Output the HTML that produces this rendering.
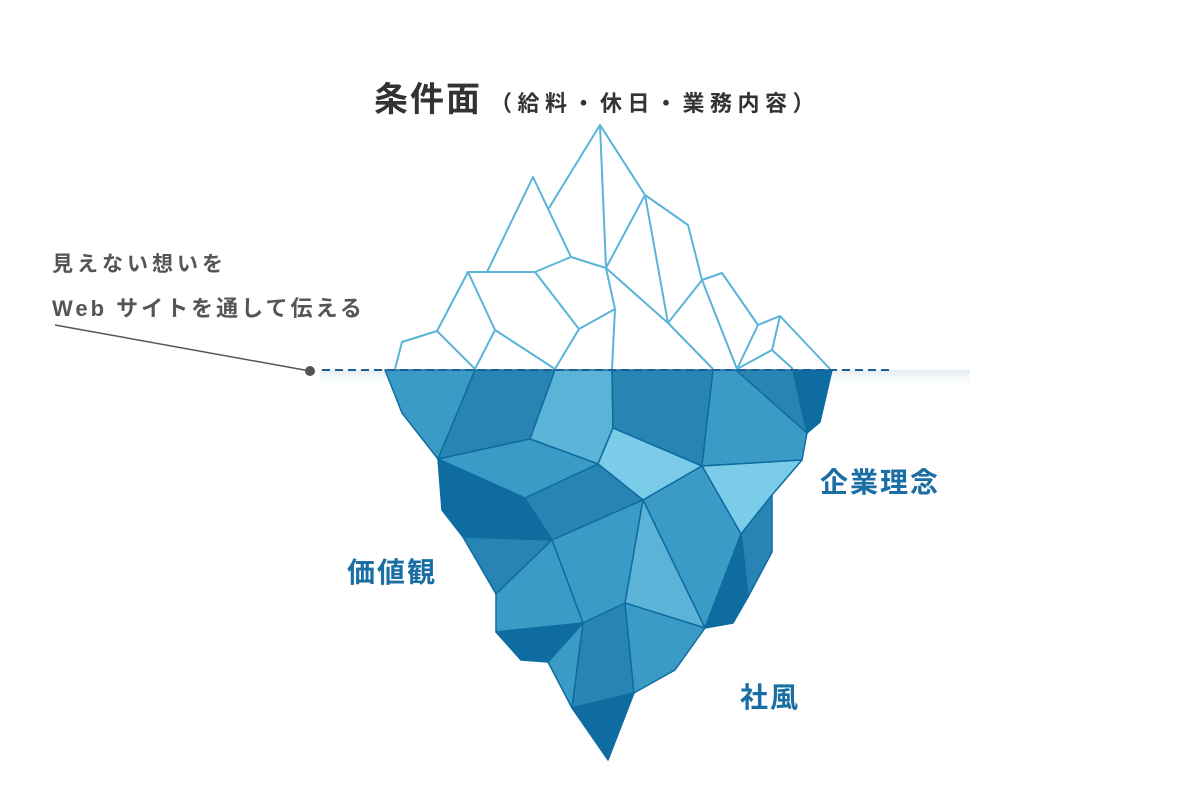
<!DOCTYPE html>
<html><head><meta charset="utf-8"><style>
body{margin:0;background:#fff;width:1200px;height:809px;overflow:hidden;position:relative;font-family:"Liberation Sans","Noto Sans CJK JP",sans-serif}
.t{position:absolute;white-space:nowrap}
</style></head><body>
<svg width="1200" height="809" style="position:absolute;left:0;top:0">
<defs><linearGradient id="gl" x1="0" y1="0" x2="0" y2="1"><stop offset="0" stop-color="#dfe9f2" stop-opacity=".9"/><stop offset="1" stop-color="#fff" stop-opacity="0"/></linearGradient></defs>
<rect x="320" y="370" width="650" height="18" fill="url(#gl)"/>
<g fill="none" stroke="#5ab4d8" stroke-width="2" stroke-linejoin="round">
<polyline points="395,369 402,342 437,331 468,272 535,272 571,257"/>
<polyline points="487,272 533,177 571,257 606,268"/>
<polyline points="549,208 600,125 606,268"/>
<polyline points="600,125 645,195 688,225 702,280 722,273 758,325 780,316 830,369"/>
<line x1="645" y1="195" x2="606" y2="268"/><line x1="645" y1="195" x2="668" y2="323"/>
<line x1="606" y1="268" x2="668" y2="323"/><line x1="606" y1="268" x2="615" y2="309"/>
<line x1="702" y1="280" x2="668" y2="323"/><line x1="702" y1="280" x2="737" y2="369"/>
<line x1="668" y1="323" x2="713" y2="369"/><line x1="615" y1="309" x2="612" y2="369"/>
<polyline points="615,309 579,329 555,369"/><line x1="535" y1="272" x2="579" y2="329"/>
<polyline points="468,272 495,330 475,369"/><line x1="495" y1="330" x2="555" y2="369"/>
<line x1="437" y1="331" x2="475" y2="369"/>
<line x1="758" y1="325" x2="737" y2="369"/><polyline points="780,316 772,350 737,369"/><line x1="772" y1="350" x2="793" y2="369"/>
</g>
<g stroke="#0f6ca0" stroke-width="1.5" stroke-linejoin="round">
<polygon fill="#3a9cc6" points="385,370 475,370 438,459 402,413"/>
<polygon fill="#2884b3" points="475,370 555,370 530,439 438,459"/>
<polygon fill="#5cb3d8" points="555,370 612,370 613,428 598,464 530,439"/>
<polygon fill="#2884b3" points="612,370 713,370 702,466 613,428"/>
<polygon fill="#3a9cc6" points="713,370 736,370 807,433 802,460 702,466"/>
<polygon fill="#2884b3" points="736,370 793,370 807,433"/>
<polygon fill="#0f6ca0" points="793,370 832,370 820,422 807,433"/>
<polygon fill="#3a9cc6" points="438,459 530,439 598,464 525,498"/>
<polygon fill="#7acce8" points="613,428 702,466 643,500 598,464"/>
<polygon fill="#0f6ca0" points="438,459 525,498 552,540 463,537 442,510"/>
<polygon fill="#2884b3" points="525,498 598,464 643,500 552,540"/>
<polygon fill="#7acce8" points="702,466 802,460 772,495 741,534"/>
<polygon fill="#3a9cc6" points="643,500 702,466 741,534 705,628"/>
<polygon fill="#2884b3" points="741,534 772,495 772,552 748,597"/>
<polygon fill="#0f6ca0" points="741,534 748,597 733,623 705,628"/>
<polygon fill="#2884b3" points="463,537 552,540 496,594"/>
<polygon fill="#3a9cc6" points="552,540 643,500 625,603 583,623"/>
<polygon fill="#5cb3d8" points="643,500 705,628 625,603"/>
<polygon fill="#3a9cc6" points="496,594 552,540 583,623 496,632"/>
<polygon fill="#0f6ca0" points="496,632 583,623 548,662 521,660"/>
<polygon fill="#3a9cc6" points="583,623 572,708 548,662"/>
<polygon fill="#2884b3" points="583,623 625,603 634,693 572,708"/>
<polygon fill="#3a9cc6" points="625,603 705,628 675,670 634,693"/>
<polygon fill="#0f6ca0" points="572,708 634,693 608,760"/>
</g>
<line x1="322" y1="370" x2="890" y2="370" stroke="#1d5f92" stroke-width="2" stroke-dasharray="8,5"/>
<line x1="55" y1="325" x2="310" y2="371" stroke="#555" stroke-width="1.5"/>
<circle cx="310" cy="371" r="5" fill="#555"/>
</svg>
<div class="t" style="left:374px;top:72px;font-size:34px;font-weight:bold;color:#333;letter-spacing:2px">条件面<span style="font-size:22px;margin-left:8px;letter-spacing:5.5px">（給料・休日・業務内容）</span></div>
<div class="t" style="left:52px;top:248px;font-size:21px;font-weight:bold;color:#555;letter-spacing:4px">見えない想いを</div>
<div class="t" style="left:52px;top:291px;font-size:22px;font-weight:bold;color:#555;letter-spacing:3px">Web サイトを通して伝える</div>
<div class="t" style="left:820px;top:461px;font-size:28px;font-weight:bold;color:#1a6ea3;letter-spacing:2px">企業理念</div>
<div class="t" style="left:347px;top:551px;font-size:28px;font-weight:bold;color:#1a6ea3;letter-spacing:2px">価値観</div>
<div class="t" style="left:740px;top:676px;font-size:28px;font-weight:bold;color:#1a6ea3;letter-spacing:2px">社風</div>
</body></html>
